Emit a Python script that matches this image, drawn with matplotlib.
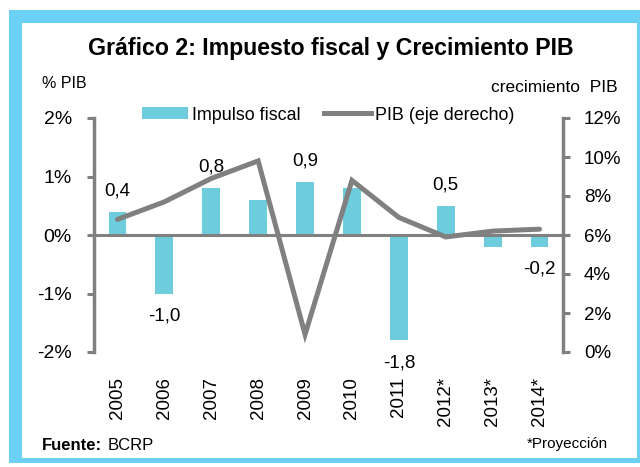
import matplotlib
matplotlib.use("Agg")
import matplotlib.pyplot as plt
from matplotlib.patches import Rectangle
from matplotlib.lines import Line2D
from matplotlib.patches import Patch

plt.rcParams['font.family'] = ['Liberation Sans', 'DejaVu Sans']

years = ["2005", "2006", "2007", "2008", "2009", "2010", "2011", "2012*", "2013*", "2014*"]
impulso = [0.4, -1.0, 0.8, 0.6, 0.9, 0.8, -1.8, 0.5, -0.2, -0.2]
pib = [6.8, 7.7, 8.9, 9.8, 0.9, 8.8, 6.9, 5.9, 6.2, 6.3]
# etiquetas que se muestran sobre las barras (None = sin etiqueta)
bar_labels = ["0,4", "-1,0", "0,8", None, "0,9", None, "-1,8", "0,5", None, "-0,2"]

W, H = 640, 467
bar_color = "#6dcddc"
frame_color = "#6dd0f5"
gray = "#808080"

fig = plt.figure(figsize=(W / 100, H / 100), dpi=100)

def px(x, y):
    return x / W, 1 - y / H

# marco celeste
fig.patches.append(Rectangle(px(9, 463), 631 / W, 453 / H, transform=fig.transFigure,
                             facecolor=frame_color, edgecolor="none", zorder=-10))
fig.patches.append(Rectangle(px(22, 458), 615 / W, 435 / H, transform=fig.transFigure,
                             facecolor="white", edgecolor="none", zorder=-9))

left, right = 94 / W, 563 / W
bottom, top = 1 - 352 / H, 1 - 118 / H
ax = fig.add_axes([left, bottom, right - left, top - bottom])
ax.patch.set_alpha(0)
x = list(range(len(years)))

ax.bar(x, impulso, width=0.38, color=bar_color, zorder=2)
ax.axhline(0, color=gray, lw=2.2, zorder=3)
ax.set_ylim(-2, 2)
ax.set_xlim(-0.5, len(years) - 0.5)
ax.set_yticks([-2, -1, 0, 1, 2])
ax.set_yticklabels(["-2%", "-1%", "0%", "1%", "2%"])
ax.set_xticks(x)
ax.set_xticklabels(years, rotation=90)
ax.tick_params(axis="x", length=0, labelsize=13.5, pad=18)
ax.tick_params(axis="y", length=5, width=2.2, color=gray, labelsize=14, pad=11)
for s in ["top", "right", "bottom"]:
    ax.spines[s].set_visible(False)
ax.spines["left"].set_color(gray)
ax.spines["left"].set_linewidth(2.5)

for xi, v, lab in zip(x, impulso, bar_labels):
    if lab is None:
        continue
    if v >= 0:
        ax.annotate(lab, (xi, v), xytext=(0, 9), textcoords="offset points",
                    ha="center", va="bottom", fontsize=13.5)
    else:
        ax.annotate(lab, (xi, v), xytext=(0, -10), textcoords="offset points",
                    ha="center", va="top", fontsize=13.5)

ax2 = ax.twinx()
ax2.plot(x, pib, color=gray, lw=3.6, solid_capstyle="round", solid_joinstyle="miter", zorder=4)
ax2.set_ylim(0, 12)
ax2.set_yticks([0, 2, 4, 6, 8, 10, 12])
ax2.set_yticklabels(["0%", "2%", "4%", "6%", "8%", "10%", "12%"])
ax2.tick_params(axis="y", length=5, width=2.2, color=gray, labelsize=13.5, pad=10)
for s in ["top", "left", "bottom"]:
    ax2.spines[s].set_visible(False)
ax2.spines["right"].set_color(gray)
ax2.spines["right"].set_linewidth(2.5)

fig.text(*px(331, 48), "Gráfico 2: Impuesto fiscal y Crecimiento PIB", ha="center", va="center",
         fontsize=16.7, fontweight="bold")
fig.text(*px(42, 83), "% PIB", ha="left", va="center", fontsize=11.5)
fig.text(*px(618, 87), "crecimiento  PIB", ha="right", va="center", fontsize=12.5)
fig.text(*px(42, 445), "Fuente:", ha="left", va="center", fontsize=12, fontweight="bold")
fig.text(*px(108, 445), "BCRP", ha="left", va="center", fontsize=12)
fig.text(*px(608, 444), "*Proyección", ha="right", va="center", fontsize=11)

handles = [Patch(facecolor=bar_color, label="Impulso fiscal"),
           Line2D([0], [0], color=gray, lw=3.6, label="PIB (eje derecho)")]
fig.legend(handles=handles, loc="center", bbox_to_anchor=px(328, 115), ncol=2, frameon=False,
           fontsize=12.9, handlelength=2.6, handleheight=0.67, columnspacing=1.3,
           handletextpad=0.22, borderpad=0, borderaxespad=0)

fig.savefig("out.png", dpi=100)
